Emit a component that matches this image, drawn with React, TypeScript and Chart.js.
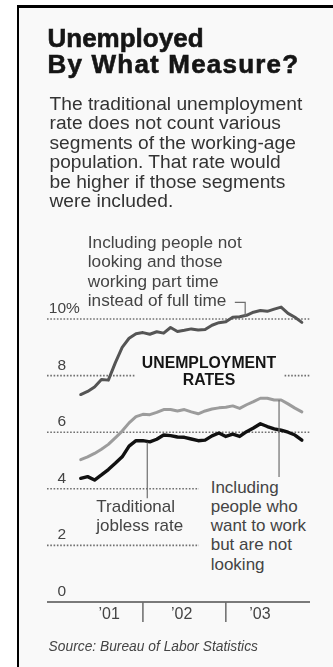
import React, { useEffect, useRef } from "react";
import { Chart, registerables } from "chart.js";

Chart.register(...registerables);

// ---------- DATA ----------
const months = [
  "2001-04", "2001-05", "2001-06", "2001-07", "2001-08", "2001-09", "2001-10", "2001-11", "2001-12",
  "2002-01", "2002-02", "2002-03", "2002-04", "2002-05", "2002-06", "2002-07", "2002-08", "2002-09",
  "2002-10", "2002-11", "2002-12",
  "2003-01", "2003-02", "2003-03", "2003-04", "2003-05", "2003-06", "2003-07", "2003-08", "2003-09",
  "2003-10", "2003-11", "2003-12",
];

// Including people not looking and those working part time instead of full time
const broadRate = [
  7.33, 7.44, 7.6, 7.86, 7.84, 8.45, 9.0, 9.32, 9.48,
  9.52, 9.46, 9.55, 9.5, 9.7, 9.56, 9.6, 9.65, 9.61, 9.63, 9.78, 9.87,
  9.9, 10.06, 10.08, 10.13, 10.24, 10.3, 10.27, 10.35, 10.42, 10.2, 10.06, 9.88,
];

// Including people who want to work but are not looking
const wantWorkRate = [
  5.03, 5.13, 5.25, 5.4, 5.57, 5.8, 6.04, 6.33, 6.55,
  6.63, 6.62, 6.7, 6.8, 6.8, 6.75, 6.8, 6.72, 6.65, 6.75, 6.82, 6.86,
  6.88, 6.93, 6.84, 6.97, 7.08, 7.2, 7.2, 7.14, 7.14, 7.0, 6.85, 6.72,
];

// Traditional jobless rate
const traditionalRate = [
  4.37, 4.43, 4.31, 4.49, 4.68, 4.9, 5.13, 5.51, 5.7,
  5.7, 5.66, 5.75, 5.9, 5.88, 5.83, 5.82, 5.76, 5.7, 5.72, 5.87, 5.97,
  5.85, 5.93, 5.85, 6.02, 6.15, 6.3, 6.2, 6.12, 6.07, 6.0, 5.9, 5.72,
];

const yTickValues = [0, 2, 4, 6, 8, 10];
const yTickLabels = ["0", "2", "4", "6", "8", "10%"];
const yearTickMonths = [12, 24]; // Jan 2002, Jan 2003 (months since Jan 2001)
const xTickLabels = ["\u201901", "\u201902", "\u201903"];

// ---------- LAYOUT ----------
const FONT = '"Liberation Sans", Arial, Helvetica, sans-serif';
const PANEL = "#f9f9f9";
const xLabelAt = [7.12, 17.61, 28.94]; // month positions where year labels are centred
const X_MIN = -1.88;
const X_MAX = 36.18;
const Y_MAX = 11;

const monthIndex = (s: string) => {
  const [y, m] = s.split("-").map(Number);
  return (y - 2001) * 12 + (m - 1);
};

const toPoints = (vals: number[]) => vals.map((v, i) => ({ x: monthIndex(months[i]), y: v }));

const drawPlugin = {
  id: "newsDecor",
  beforeDatasetsDraw(chart: any) {
    const { ctx, chartArea, scales } = chart;
    const x = scales.x;
    const y = scales.y;
    ctx.save();
    // dotted gridlines
    ctx.strokeStyle = "#707070";
    ctx.lineWidth = 1.6;
    ctx.setLineDash([1.6, 1.7]);
    yTickValues.forEach((v) => {
      if (v === 0) return;
      const py = y.getPixelForValue(v);
      ctx.beginPath();
      ctx.moveTo(chartArea.left, py);
      ctx.lineTo(chartArea.right, py);
      ctx.stroke();
    });
    ctx.setLineDash([]);
    // axis line
    const y0 = y.getPixelForValue(0);
    ctx.strokeStyle = "#7a7a7a";
    ctx.lineWidth = 2;
    ctx.beginPath();
    ctx.moveTo(chartArea.left, y0);
    ctx.lineTo(chartArea.right, y0);
    ctx.stroke();
    // year separators
    ctx.strokeStyle = "#6a6a6a";
    ctx.lineWidth = 1.5;
    yearTickMonths.forEach((m) => {
      const px = x.getPixelForValue(m);
      ctx.beginPath();
      ctx.moveTo(px, y0);
      ctx.lineTo(px, y0 + 20);
      ctx.stroke();
    });
    // y labels
    ctx.fillStyle = "#444";
    ctx.font = `15.5px ${FONT}`;
    ctx.textBaseline = "alphabetic";
    yTickValues.forEach((v, i) => {
      const py = y.getPixelForValue(v) - 6;
      const lab = yTickLabels[i];
      const num = lab.replace("%", "");
      const ax = chartArea.left + 19;
      ctx.textAlign = "right";
      ctx.fillText(num, ax, py);
      if (lab.endsWith("%")) {
        ctx.textAlign = "left";
        ctx.fillText("%", ax, py);
      }
    });
    // x labels
    ctx.font = `16px ${FONT}`;
    ctx.textAlign = "center";
    xTickLabels.forEach((lab, i) => {
      ctx.fillText(lab, x.getPixelForValue(xLabelAt[i]), y0 + 17);
    });
    ctx.restore();
  },
  afterDatasetsDraw(chart: any) {
    const { ctx, scales } = chart;
    const x = scales.x;
    const y = scales.y;
    ctx.save();
    ctx.strokeStyle = "#6e6e6e";
    ctx.lineWidth = 1.2;
    // leader: broad rate label hook
    ctx.beginPath();
    ctx.moveTo(x.getPixelForValue(25.3), y.getPixelForValue(10.59));
    ctx.lineTo(x.getPixelForValue(26.8), y.getPixelForValue(10.59));
    ctx.lineTo(x.getPixelForValue(26.8), y.getPixelForValue(10.1));
    ctx.stroke();
    // leader: traditional
    ctx.beginPath();
    ctx.moveTo(x.getPixelForValue(12.63), y.getPixelForValue(5.64));
    ctx.lineTo(x.getPixelForValue(12.63), y.getPixelForValue(3.67));
    ctx.stroke();
    // leader: want to work
    ctx.beginPath();
    ctx.moveTo(x.getPixelForValue(31.7), y.getPixelForValue(7.14));
    ctx.lineTo(x.getPixelForValue(31.7), y.getPixelForValue(4.42));
    ctx.stroke();
    ctx.restore();
  },
};

export default function App() {
  const ref = useRef<HTMLCanvasElement | null>(null);

  useEffect(() => {
    if (!ref.current) return;
    const chart = new Chart(ref.current, {
      type: "line",
      data: {
        datasets: [
          {
            label: "Including people not looking and those working part time instead of full time",
            data: toPoints(broadRate),
            borderColor: "#555555",
            borderWidth: 3,
          },
          {
            label: "Including people who want to work but are not looking",
            data: toPoints(wantWorkRate),
            borderColor: "#9c9c9c",
            borderWidth: 3,
          },
          {
            label: "Traditional jobless rate",
            data: toPoints(traditionalRate),
            borderColor: "#111111",
            borderWidth: 3.4,
          },
        ],
      },
      options: {
        responsive: false,
        animation: false,
        devicePixelRatio: 1,
        layout: {
          padding: { left: 47, right: 23, top: 602 - Y_MAX * 28.3, bottom: 65 },
        },
        elements: {
          point: { radius: 0 },
          line: { tension: 0, borderJoinStyle: "round", borderCapStyle: "round", fill: false },
        },
        scales: {
          x: { type: "linear", display: false, min: X_MIN, max: X_MAX },
          y: { type: "linear", display: false, min: 0, max: Y_MAX },
        },
        plugins: {
          legend: { display: false },
          tooltip: { enabled: false },
        },
      },
      plugins: [drawPlugin],
    });
    return () => chart.destroy();
  }, []);

  const abs = (s: React.CSSProperties): React.CSSProperties => ({
    position: "absolute",
    margin: 0,
    whiteSpace: "pre",
    fontFamily: FONT,
    ...s,
  });

  return (
    <div
      style={{
        position: "absolute",
        left: 0,
        top: 0,
        width: 333,
        height: 667,
        background: "#ffffff",
        overflow: "hidden",
        fontFamily: FONT,
      }}
    >
      <div style={{ position: "absolute", left: 19, top: 7.5, right: 0, bottom: 0, background: PANEL }} />
      <div style={{ position: "absolute", left: 16.5, top: 5, width: 2.7, bottom: 0, background: "#000" }} />
      <div style={{ position: "absolute", left: 16.5, top: 5, right: 0, height: 2.5, background: "#000" }} />

      <canvas ref={ref} width={333} height={667} style={{ position: "absolute", left: 0, top: 0 }} />

      <div
        style={abs({
          left: 47.5,
          top: 24.5,
          fontSize: 26,
          lineHeight: "26px",
          fontWeight: 700,
          color: "#151515",
          WebkitTextStroke: "0.6px #151515",
        })}
      >
        <div>Unemployed</div>
        <div style={{ letterSpacing: "1.2px" }}>By What Measure?</div>
      </div>

      <div style={abs({ left: 49.5, top: 93.6, fontSize: 19.2, lineHeight: "19.5px", color: "#333" })}>
        {"The traditional unemployment\nrate does not count various\nsegments of the working-age\npopulation. That rate would\nbe higher if those segments\nwere included."}
      </div>

      <div style={abs({ left: 87.8, top: 232.6, fontSize: 17.2, lineHeight: "19.5px", color: "#444" })}>
        {"Including people not\nlooking and those\nworking part time\ninstead of full time"}
      </div>

      <div
        style={abs({
          left: 135,
          top: 355.2,
          width: 148,
          height: 36,
          textAlign: "center",
          fontSize: 15.8,
          lineHeight: "16.7px",
          fontWeight: 700,
          color: "#151515",
          background: PANEL,
        })}
      >
        {"UNEMPLOYMENT\nRATES"}
      </div>

      <div style={abs({ left: 96.3, top: 497.2, fontSize: 17, lineHeight: "19.3px", color: "#444" })}>
        {"Traditional\njobless rate"}
      </div>

      <div
        style={abs({
          left: 199,
          top: 477.8,
          width: 113,
          paddingLeft: 11.7,
          boxSizing: "border-box",
          fontSize: 17,
          lineHeight: "19.2px",
          color: "#444",
          background: PANEL,
        })}
      >
        {"Including\npeople who\nwant to work\nbut are not\nlooking"}
      </div>

      <div style={abs({ left: 48.6, top: 638.9, fontSize: 13.8, lineHeight: "16px", fontStyle: "italic", color: "#444" })}>
        Source: Bureau of Labor Statistics
      </div>
    </div>
  );
}
